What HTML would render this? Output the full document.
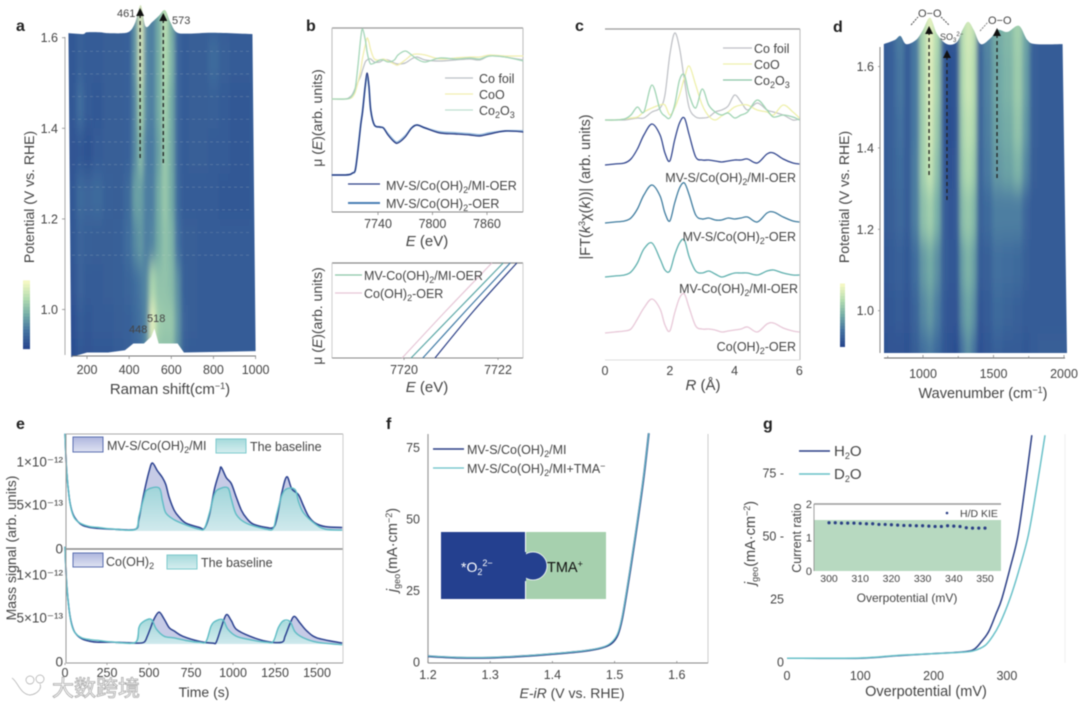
<!DOCTYPE html>
<html lang="en">
<head>
<meta charset="utf-8">
<title>Spectroscopy and electrochemistry figure</title>
<style>
html,body{margin:0;padding:0;background:#fff;width:1080px;height:708px;overflow:hidden}
#fig{display:block;filter:blur(.45px)}
text{font-family:"Liberation Sans","Noto Sans CJK SC",sans-serif;fill:#444}
.pl{font-size:16px;font-weight:bold;fill:#222}
.t{font-size:12.5px}
.tt{font-size:15px}
.sub{font-size:9px}
</style>
</head>
<body>
<svg id="fig" xmlns="http://www.w3.org/2000/svg" width="1080" height="708" viewBox="0 0 1080 708">
<defs>
<filter id="blurA" filterUnits="userSpaceOnUse" x="0" y="-60" width="320" height="480"><feGaussianBlur stdDeviation="2.2 11"/></filter>
<filter id="blurD" filterUnits="userSpaceOnUse" x="820" y="-60" width="300" height="480"><feGaussianBlur stdDeviation="2.2 11"/></filter>
<clipPath id="clipA"><path id="clipApath"/></clipPath>
<clipPath id="clipD"><path id="clipDpath"/></clipPath>
<linearGradient id="fadeBlue" x1="0" y1="0" x2="0" y2="1"><stop offset="0" stop-color="#aeb6de"/><stop offset="1" stop-color="#dfe3f2"/></linearGradient>
<linearGradient id="fadeTeal" x1="0" y1="0" x2="0" y2="1"><stop offset="0" stop-color="#9cd6d8" stop-opacity=".9"/><stop offset="1" stop-color="#d2edee" stop-opacity=".9"/></linearGradient>
<marker id="arrow" markerUnits="userSpaceOnUse" markerWidth="8" markerHeight="8" refX="4" refY="4" orient="auto"><path d="M0,4 L8,0 L8,8 Z" transform="rotate(180 4 4)" fill="#111"/></marker>
</defs>

<text class="pl" x="16" y="31">a</text>
<text class="pl" x="306" y="31">b</text>
<text class="pl" x="575" y="31">c</text>
<text class="pl" x="833" y="32">d</text>
<text class="pl" x="16" y="429">e</text>
<text class="pl" x="386" y="429">f</text>
<text class="pl" x="763" y="429">g</text>

<!-- panel a -->
<g id="heatA" clip-path="url(#clipA)"><g id="heatAcells" filter="url(#blurA)"></g></g>
<g id="panelA"></g>
<text class="t" x="117" y="17" style="font-size:11px">461</text>
<text class="t" x="172" y="24" style="font-size:11px">573</text>
<text class="t" x="129" y="333" style="font-size:11px">448</text>
<text class="t" x="147" y="322" style="font-size:11px">518</text>
<text class="tt" x="170" y="394" text-anchor="middle">Raman shift(cm<tspan class="sub" dy="-5">−1</tspan><tspan dy="5">)</tspan></text>
<text class="tt" transform="translate(34,197) rotate(-90)" text-anchor="middle" style="font-size:14px">Potential (V vs. RHE)</text>

<!-- panel b -->
<g id="panelB"></g>
<g>
<text class="t" x="479" y="83">Co foil</text>
<text class="t" x="479" y="99">CoO</text>
<text class="t" x="479" y="115">Co<tspan class="sub" dy="3">2</tspan><tspan dy="-3">O</tspan><tspan class="sub" dy="3">3</tspan></text>
<text class="t" x="386" y="190">MV-S/Co(OH)<tspan class="sub" dy="3">2</tspan><tspan dy="-3">/MI-OER</tspan></text>
<text class="t" x="386" y="208">MV-S/Co(OH)<tspan class="sub" dy="3">2</tspan><tspan dy="-3">-OER</tspan></text>
<text class="t" x="364" y="280">MV-Co(OH)<tspan class="sub" dy="3">2</tspan><tspan dy="-3">/MI-OER</tspan></text>
<text class="t" x="364" y="298">Co(OH)<tspan class="sub" dy="3">2</tspan><tspan dy="-3">-OER</tspan></text>
</g>
<text class="tt" x="427" y="246" text-anchor="middle"><tspan font-style="italic">E</tspan> (eV)</text>
<text class="tt" x="427" y="392" text-anchor="middle"><tspan font-style="italic">E</tspan> (eV)</text>
<text transform="translate(322,118) rotate(-90)" text-anchor="middle" style="font-size:14px">μ (<tspan font-style="italic">E</tspan>)(arb. units)</text>
<text transform="translate(322,316) rotate(-90)" text-anchor="middle" style="font-size:14px">μ (<tspan font-style="italic">E</tspan>)(arb. units)</text>

<!-- panel c -->
<g id="panelC"></g>
<text class="t" x="754" y="53">Co foil</text>
<text class="t" x="754" y="69">CoO</text>
<text class="t" x="754" y="85">Co<tspan class="sub" dy="3">2</tspan><tspan dy="-3">O</tspan><tspan class="sub" dy="3">3</tspan></text>
<text class="t" x="796" y="182" text-anchor="end">MV-S/Co(OH)<tspan class="sub" dy="3">2</tspan><tspan dy="-3">/MI-OER</tspan></text>
<text class="t" x="796" y="241" text-anchor="end">MV-S/Co(OH)<tspan class="sub" dy="3">2</tspan><tspan dy="-3">-OER</tspan></text>
<text class="t" x="798" y="293" text-anchor="end">MV-Co(OH)<tspan class="sub" dy="3">2</tspan><tspan dy="-3">/MI-OER</tspan></text>
<text class="t" x="796" y="351" text-anchor="end">Co(OH)<tspan class="sub" dy="3">2</tspan><tspan dy="-3">-OER</tspan></text>
<text class="tt" x="703" y="390" text-anchor="middle"><tspan font-style="italic">R</tspan> (Å)</text>
<text transform="translate(590,187) rotate(-90)" text-anchor="middle" style="font-size:14.5px">|FT(<tspan font-style="italic">k</tspan><tspan class="sub" dy="-5">3</tspan><tspan dy="5">χ(</tspan><tspan font-style="italic">k</tspan>))| (arb. units)</text>

<!-- panel d -->
<g id="heatD" clip-path="url(#clipD)"><g id="heatDcells" filter="url(#blurD)"></g></g>
<g id="panelD"></g>
<text x="918" y="17" style="font-size:11px">O−O</text>
<text x="988" y="24" style="font-size:11px">O−O</text>
<text x="940" y="40" style="font-size:9px">SO<tspan style="font-size:6px" dy="2">3</tspan><tspan style="font-size:6px" dy="-6">2−</tspan></text>
<text class="tt" x="983" y="398" text-anchor="middle" style="font-size:14.5px">Wavenumber (cm<tspan class="sub" dy="-5">−1</tspan><tspan dy="5">)</tspan></text>
<text class="tt" transform="translate(849,197) rotate(-90)" text-anchor="middle" style="font-size:14px">Potential (V vs. RHE)</text>

<!-- panel e -->
<g id="panelE"></g>
<rect x="73" y="437" width="30" height="15" fill="url(#fadeBlue)" stroke="#5a6eb0"/>
<rect x="216" y="439" width="30" height="14" fill="url(#fadeTeal)" stroke="#7cc9cc"/>
<rect x="73" y="553" width="30" height="14" fill="url(#fadeBlue)" stroke="#5a6eb0"/>
<rect x="167" y="555" width="30" height="14" fill="url(#fadeTeal)" stroke="#7cc9cc"/>
<text class="t" x="107" y="450">MV-S/Co(OH)<tspan class="sub" dy="3">2</tspan><tspan dy="-3">/MI</tspan></text>
<text class="t" x="250" y="451">The baseline</text>
<text class="t" x="106" y="566">Co(OH)<tspan class="sub" dy="3">2</tspan></text>
<text class="t" x="201" y="567">The baseline</text>
<text class="tt" x="204" y="697" text-anchor="middle" style="font-size:14px">Time (s)</text>
<text class="tt" transform="translate(16,548) rotate(-90)" text-anchor="middle" style="font-size:14px">Mass signal (arb. units)</text>

<!-- panel f -->
<g id="panelF"></g>
<g>
<rect x="441" y="532" width="84" height="67" fill="#24408f"/>
<rect x="526" y="532" width="80" height="67" fill="#a6d0ae"/>
<circle cx="533" cy="566" r="14" fill="#24408f" stroke="#fff" stroke-width=".8"/>
<rect x="515" y="552" width="11" height="29" fill="#24408f"/>
<text x="461" y="572" style="font-size:14px;fill:#fff">*O<tspan style="font-size:9px;fill:#fff" dy="3">2</tspan><tspan style="font-size:9px;fill:#fff" dy="-9">2−</tspan></text>
<text x="547" y="572" style="font-size:14.5px;fill:#111">TMA<tspan style="font-size:9px;fill:#111" dy="-5">+</tspan></text>
</g>
<text class="t" x="467" y="454">MV-S/Co(OH)<tspan class="sub" dy="3">2</tspan><tspan dy="-3">/MI</tspan></text>
<text class="t" x="467" y="473">MV-S/Co(OH)<tspan class="sub" dy="3">2</tspan><tspan dy="-3">/MI+TMA</tspan><tspan class="sub" dy="-4">−</tspan></text>
<text class="tt" x="572" y="698" text-anchor="middle" style="font-size:14px"><tspan font-style="italic">E-iR</tspan> (V vs. RHE)</text>
<text transform="translate(397,550) rotate(-90)" text-anchor="middle" style="font-size:14.5px"><tspan font-style="italic">j</tspan><tspan class="sub" dy="3">geo</tspan><tspan dy="-3">(mA·cm</tspan><tspan class="sub" dy="-5">−2</tspan><tspan dy="5">)</tspan></text>

<!-- panel g -->
<g id="panelG"></g>
<text x="834" y="456" style="font-size:15px">H<tspan class="sub" dy="3">2</tspan><tspan dy="-3">O</tspan></text>
<text x="834" y="479" style="font-size:15px">D<tspan class="sub" dy="3">2</tspan><tspan dy="-3">O</tspan></text>
<text x="960" y="517" style="font-size:10.5px">H/D KIE</text>
<text x="907" y="602" text-anchor="middle" style="font-size:12px">Overpotential (mV)</text>
<text transform="translate(801,538) rotate(-90)" text-anchor="middle" style="font-size:12.5px">Current ratio</text>
<text class="tt" x="926" y="696" text-anchor="middle" style="font-size:14.5px">Overpotential (mV)</text>
<text transform="translate(755,543) rotate(-90)" text-anchor="middle" style="font-size:14.5px"><tspan font-style="italic">j</tspan><tspan class="sub" dy="3">geo</tspan><tspan dy="-3">(mA·cm</tspan><tspan class="sub" dy="-5">−2</tspan><tspan dy="5">)</tspan></text>

<!-- watermark -->
<g>
<path d="M12,678 C18,682 20,694 30,695 C38,694 42,688 40,684 M18,676 C16,686 20,698 24,700 M26,680 a4,4 0 1 0 8,0 a4,4 0 1 0 -8,0 M36,679 a4,4 0 1 0 8,0 a4,4 0 1 0 -8,0" fill="none" stroke="#fff" stroke-width="2.4"/>
<path d="M12,678 C18,682 20,694 30,695 C38,694 42,688 40,684 M26,680 a4,4 0 1 0 8,0 a4,4 0 1 0 -8,0 M36,679 a4,4 0 1 0 8,0 a4,4 0 1 0 -8,0" fill="none" stroke="#aaa" stroke-width=".7"/>
<text x="52" y="696" style="font-size:22px;fill:#fff;stroke:#aaa;stroke-width:.8;font-family:'Noto Sans CJK SC',sans-serif">大数跨境</text>
</g>
</svg>

<script>
/* ---------- panel a data ---------- */
const ramanShift=[130,170,200,250,300,350,400,430,455,480,510,540,570,600,630,660,700,750,800,850,900,950,1000];
const ramanPotentials=[1.66,1.55,1.45,1.35,1.25,1.15,1.05,0.97,0.90];
const ramanIntensity=[
[.10,.14,.12,.12,.13,.13,.15,.40,.95,.35,.30,.50,.80,.50,.18,.12,.13,.13,.12,.12,.12,.12,.12],
[.10,.14,.12,.12,.13,.13,.15,.40,.90,.35,.30,.50,.75,.55,.18,.12,.13,.13,.20,.14,.12,.12,.12],
[.10,.22,.12,.10,.13,.13,.15,.35,.75,.35,.30,.50,.70,.50,.18,.12,.13,.13,.14,.12,.10,.10,.12],
[.08,.10,.06,.12,.13,.13,.15,.35,.60,.30,.28,.45,.65,.50,.18,.12,.13,.13,.12,.12,.10,.10,.12],
[.10,.20,.18,.20,.14,.13,.20,.45,.45,.30,.30,.50,.65,.50,.20,.12,.12,.12,.12,.10,.10,.10,.12],
[.10,.16,.14,.13,.13,.14,.22,.35,.42,.30,.33,.50,.62,.55,.25,.13,.13,.12,.12,.12,.12,.12,.12],
[.08,.16,.12,.12,.13,.14,.17,.22,.28,.35,.72,.62,.62,.58,.38,.14,.13,.12,.12,.12,.12,.12,.12],
[.05,.12,.10,.12,.12,.13,.15,.20,.25,.35,.95,.68,.65,.65,.42,.16,.13,.12,.12,.12,.12,.12,.12],
[.03,.10,.08,.10,.10,.12,.14,.18,.22,.35,.85,.62,.60,.60,.38,.14,.12,.12,.12,.12,.12,.12,.12]];
const ramanTopShift=[112,180,200,260,300,370,405,430,455,478,510,540,570,595,625,680,800,985];
const ramanTopEdge=[1.61,1.608,1.612,1.612,1.61,1.61,1.615,1.635,1.672,1.625,1.635,1.648,1.661,1.635,1.612,1.609,1.611,1.608];
const ramanBottomShift=[125,200,300,380,420,470,505,520,540,590,630,660,1000];
const ramanBottomEdge=[0.895,0.905,0.905,0.91,0.925,0.925,0.94,0.958,0.925,0.925,0.925,0.905,0.908];
const ramanTraces=[1.57,1.52,1.47,1.42,1.37,1.32,1.27,1.22,1.17,1.12];
const ramanXTicks=[200,400,600,800,1000];
const ramanXLabels=['200','400','600','800','1000'];
const potentialTicks=[1.0,1.2,1.4,1.6];
const potentialLabels=['1.0','1.2','1.4','1.6'];
const colorbarLevels=[0,.05,.1,.15,.2,.25,.3,.35,.4,.45,.5,.55,.6,.65,.7,.75,.8,.85,.9,.95,1];

/* ---------- panel b data ---------- */
const xanesEnergy=[7689,7704,7709,7712,7715,7718,7721,7723,7726,7728,7730,7732,7736,7742,7746,7751,7758,7762,7770,7777,7783,7792,7808,7825,7841,7852,7863,7880,7900];
const xanesCoFoil=[0,0,.02,.05,.11,.17,.23,.29,.37,.39,.40,.40,.37,.37,.39,.39,.36,.35,.36,.40,.42,.39,.38,.39,.40,.39,.43,.42,.39];
const xanesCoO=[0,0,.005,.02,.07,.17,.29,.41,.54,.61,.57,.49,.40,.39,.40,.38,.35,.34,.39,.44,.45,.44,.40,.41,.42,.42,.44,.43,.43];
const xanesCo2O3=[0,0,.01,.04,.11,.34,.61,.70,.59,.47,.39,.35,.36,.39,.39,.37,.39,.44,.48,.44,.40,.37,.41,.40,.41,.40,.43,.42,.38];
const xanesMvMi=[0,0,.005,.02,.05,.25,.50,.63,.90,1.02,.90,.65,.50,.48,.47,.40,.33,.32,.38,.47,.50,.47,.42,.41,.40,.39,.41,.44,.43];
const xanesMvS=[0,0,.005,.02,.05,.26,.51,.64,.89,.99,.88,.65,.50,.48,.47,.41,.34,.33,.39,.47,.50,.47,.43,.42,.41,.40,.42,.44,.44];
const xanesXTicks=[7740,7800,7860];
const xanesXLabels=['7740','7800','7860'];
const edgeMu=[0,.5,1];
const edgePink=[7719.96,7720.9,7721.87];
const edgeGreen=[7720.15,7721.13,7722.11];
const edgeBlue=[7720.4,7721.32,7722.26];
const edgeDark=[7720.66,7721.49,7722.4];
const edgeXTicks=[7720,7722];
const edgeXLabels=['7720','7722'];

/* ---------- panel c data ---------- */
const exafsR=[0,.3,.6,.8,1,1.2,1.45,1.7,1.85,2,2.15,2.3,2.45,2.6,2.8,3,3.2,3.4,3.6,3.8,4,4.2,4.4,4.7,5,5.2,5.5,5.8,6];
const exafsFoil=[0,0,0,1,2,2,8,12,25,65,87,72,40,12,3,2,3,8,10,14,25,18,10,17,10,8,5,0,1];
const exafsCoO=[0,0,1,2,3,8,12,15,15,5,12,25,42,54,35,15,4,0,4,8,13,15,15,10,8,5,15,8,2];
const exafsCo2O3=[0,0,1,5,13,8,35,10,4,2,15,40,45,25,12,31,15,8,5,7,2,5,8,20,10,3,5,3,0];
const exafsMvSMi=[0,1,2,6,16,30,41,30,12,4,25,42,47,30,8,5,5,4,3,4,5,5,6,2,11,12,6,2,1];
const exafsMvS=[0,1,2,5,14,28,38,27,10,2,20,35,40,28,8,4,5,3,3,5,4,5,6,1,10,11,6,2,1];
const exafsMvMi=[0,1,2,5,14,28,34,18,7,6,22,34,37,20,6,4,6,3,0,2,4,4,4,2,6,7,4,2,2];
const exafsCoOH=[0,1,2,4,14,25,34,24,8,2,20,35,39,25,7,4,4,3,1,2,3,4,6,1,9,10,5,2,1];
const exafsXTicks=[0,2,4,6];
const exafsXLabels=['0','2','4','6'];

/* ---------- panel d data ---------- */
const waveNumber=[720,780,820,850,880,950,1000,1050,1100,1150,1190,1240,1280,1320,1360,1400,1450,1530,1600,1680,1730,1780,1850,2000];
const irPotentials=[1.72,1.55,1.45,1.35,1.25,1.1,1.0,0.89];
const irIntensity=[
[.12,.15,.28,.30,.12,.28,.72,.95,.74,.15,.08,.10,.76,.88,.80,.14,.34,.50,.56,.68,.46,.15,.12,.12],
[.12,.15,.25,.28,.12,.28,.70,.92,.70,.10,.04,.10,.74,.85,.76,.14,.32,.48,.54,.66,.44,.15,.12,.12],
[.12,.15,.22,.25,.12,.28,.68,.88,.65,.10,.03,.10,.70,.80,.72,.14,.30,.46,.50,.62,.40,.14,.12,.12],
[.12,.14,.20,.22,.12,.30,.68,.82,.60,.12,.05,.12,.66,.75,.66,.14,.28,.42,.46,.54,.34,.13,.12,.12],
[.12,.13,.18,.20,.12,.30,.60,.68,.52,.15,.08,.12,.58,.65,.56,.14,.20,.30,.30,.30,.18,.12,.12,.12],
[.10,.12,.15,.15,.10,.22,.42,.50,.38,.14,.10,.10,.45,.55,.45,.12,.14,.24,.22,.20,.14,.12,.12,.12],
[.08,.10,.12,.12,.08,.17,.34,.42,.30,.12,.08,.08,.38,.48,.38,.08,.12,.20,.17,.15,.12,.12,.12,.12],
[.06,.08,.08,.08,.06,.13,.24,.28,.20,.10,.06,.03,.26,.38,.26,.05,.10,.15,.12,.12,.10,.12,.13,.13]];
const irTopShift=[722,800,840,880,950,1000,1050,1100,1170,1240,1280,1320,1360,1410,1480,1530,1600,1680,1740,1800,1990];
const irTopEdge=[1.655,1.665,1.675,1.655,1.665,1.69,1.72,1.68,1.655,1.66,1.69,1.71,1.69,1.655,1.67,1.69,1.685,1.70,1.665,1.655,1.655];
const irXTicks=[1000,1500,2000];
const irXLabels=['1000','1500','2000'];
const irMinorTicks=[750,1250,1750];

/* ---------- panel e data ---------- */
const timeTopMv=[0,10,25,40,60,100,150,200,300,420,440,470,500,520,550,580,600,620,650,680,720,800,830,860,890,920,930,960,990,1020,1050,1080,1120,1200,1240,1260,1290,1320,1350,1390,1420,1450,1490,1550,1650];
const signalTopMv=[13.4,9,6,4.5,3.6,2.8,2.5,2.4,2.3,2.3,3.5,6.5,9,10,9.1,8.3,7.5,6,4.5,3.7,3,2.5,2.4,4,7,9,9.5,8.3,7.6,6,4.5,3.6,2.9,2.5,2.5,3.5,6.5,8.4,7,6.3,5,3.8,3,2.6,2.5];
const timeTopBase=[0,10,25,40,60,100,150,200,300,420,440,470,490,560,580,600,650,720,800,830,860,890,920,970,990,1020,1080,1200,1240,1260,1290,1320,1370,1390,1420,1490,1550,1650];
const signalTopBase=[13.4,9,6,4.4,3.5,2.9,2.6,2.5,2.3,2.3,3.8,6,6.9,7.1,5.6,4.2,3.4,2.8,2.3,2.4,4.2,6.4,7,7.1,5.8,4,3,2.3,2.4,4,6.2,7,6.9,5.5,4.2,2.9,2.3,2.2];
const timeBotMv=[0,10,25,40,60,100,150,200,300,420,470,490,510,530,560,590,620,650,700,800,880,900,930,960,990,1020,1100,1200,1290,1310,1340,1365,1400,1440,1500,1650];
const signalBotMv=[13.4,9,6,4.4,3.4,2.7,2.4,2.3,2.3,2.2,2.3,3,4,5,5.8,5,4,3.6,3,2.4,2.2,2.3,4,5.5,4.8,3.8,3,2.4,2.3,3,4.5,5.3,4.5,3.6,2.8,2.2];
const timeBotBase=[0,10,25,40,60,100,150,200,300,420,440,460,500,520,545,590,650,720,800,840,870,900,940,970,1020,1100,1200,1240,1270,1300,1340,1370,1420,1500,1650];
const signalBotBase=[13.4,9,6,4.3,3.4,2.8,2.6,2.5,2.3,2.3,4,4.6,5,4.8,3.8,3,2.8,2.5,2.3,2.4,4.2,4.8,4.9,3.8,3,2.6,2.3,2.4,4,4.8,4.7,3.5,2.8,2.3,2];
const timeTicks=[0,250,500,750,1000,1250,1500];
const timeLabels=['0','250','500','750','1000','1250','1500'];

/* ---------- panel f data ---------- */
const fPotential=[1.2,1.25,1.3,1.35,1.4,1.45,1.48,1.495,1.505,1.512,1.52,1.53,1.5375,1.547,1.555];
const fCurrentMv=[2,1.5,1.5,2,2.8,3.8,5,6.5,9.5,15,25,39,50,65,80];
const fCurrentTma=[2.1,1.6,1.6,2.1,2.9,3.9,5.1,6.9,10,15.5,25.5,39.5,50.5,65.5,80];
const fXTicks=[1.2,1.3,1.4,1.5,1.6];
const fXLabels=['1.2','1.3','1.4','1.5','1.6'];
const fYTicks=[0,25,50,75];
const fYLabels=['0','25','50','75'];

/* ---------- panel g data ---------- */
const gOverH=[0,100,150,200,240,255,265,275,285,293,305,315,325,334];
const gCurrentH=[1.5,1.5,2.5,3.3,4,5,8,12,19,25,38,50,70,90];
const gOverD=[0,100,150,200,240,255,270,280,290,304,316,329,340,352];
const gCurrentD=[1.5,1.6,2.6,3.3,3.9,4.5,6.5,10,15,25,36,50,68,90];
const gXTicks=[0,100,200,300];
const gXLabels=['0','100','200','300'];
const gYTicks=[0,25,50,75];
const gYLabels=['0','25','50 -','75 -'];
const kieOver=[300,302,304,306,308,310,312,314,316,318,320,322,324,326,328,330,332,334,336,338,340,342,344,346,348,350];
const kieRatio=[1.44,1.44,1.43,1.43,1.43,1.42,1.41,1.41,1.39,1.39,1.38,1.37,1.36,1.36,1.35,1.35,1.34,1.33,1.33,1.35,1.34,1.33,1.29,1.28,1.28,1.28];
const kieXTicks=[300,310,320,330,340,350];
const kieXLabels=['300','310','320','330','340','350'];
const kieYTicks=[0,1,2];
const kieYLabels=['0','1','2'];

/* ---------- scales ---------- */
const SVGNS='http://www.w3.org/2000/svg';
const xA=v=>87+(v-200)*0.21075, yA=p=>37.7+(1.6-p)*453;
const xD=v=>923+(v-1000)*0.141, yD=p=>66.5+(1.6-p)*407;
const xB=e=>378+(e-7740)*0.908, yBt=(m,off)=>175-(m+off)*100;
const xB2=e=>404+(e-7720)*47, yB2=m=>358-m*95;
const xC=r=>605+r*32.4;
const xE=t=>65+t*0.168, yE1=s=>549-s*8.6, yE2=s=>662-s*8.6;
const xF=e=>428+(e-1.2)*622, yF=j=>662-j*2.86;
const xG=o=>787+o*0.733, yG=j=>662-j*2.52;
const xK=o=>829+(o-300)*3.12, yK=r=>571-r*33.5;

const colorStops=[[0,[40,72,142]],[.25,[68,114,160]],[.5,[116,172,166]],[.75,[179,220,176]],[1,[243,247,195]]];
function heatColor(v){
  v=Math.max(0,Math.min(1,v));
  for(let i=1;i<colorStops.length;i++){
    if(v<=colorStops[i][0]){
      const a=colorStops[i-1],b=colorStops[i],f=(v-a[0])/(b[0]-a[0]);
      return 'rgb('+a[1].map((c,k)=>Math.round(c+(b[1][k]-c)*f)).join(',')+')';
    }
  }
  return '#f3f7c3';
}
function smooth(p){
  let d='M'+p[0][0].toFixed(2)+','+p[0][1].toFixed(2);
  for(let i=0;i<p.length-1;i++){
    const a=p[Math.max(0,i-1)],b=p[i],c=p[i+1],e=p[Math.min(p.length-1,i+2)];
    const t=6;
    d+='C'+(b[0]+(c[0]-a[0])/t).toFixed(2)+','+(b[1]+(c[1]-a[1])/t).toFixed(2)+' '+(c[0]-(e[0]-b[0])/t).toFixed(2)+','+(c[1]-(e[1]-b[1])/t).toFixed(2)+' '+c[0].toFixed(2)+','+c[1].toFixed(2);
  }
  return d;
}
function pts(xs,ys,fx,fy){return xs.map((x,i)=>[fx(x),fy(ys[i])]);}
function addCurve(parent,d,color,width,name){
  const el=document.createElementNS(SVGNS,'path');
  el.setAttribute('d',d);
  el.setAttribute('fill','none');
  el.setAttribute('stroke',color);
  el.setAttribute('stroke-width',width);
  
  
  parent.appendChild(el);
  return el;
}
function addFill(parent,d,fill,name){
  const el=document.createElementNS(SVGNS,'path');
  el.setAttribute('d',d);
  el.setAttribute('fill',fill);
  
  
  parent.appendChild(el);
  return el;
}
function addLine(parent,x1,y1,x2,y2,color,width,name,dash,marker){
  const el=document.createElementNS(SVGNS,'line');
  el.setAttribute('x1',x1);el.setAttribute('y1',y1);el.setAttribute('x2',x2);el.setAttribute('y2',y2);
  el.setAttribute('stroke',color);
  el.setAttribute('stroke-width',width);
  if(dash)el.setAttribute('stroke-dasharray',dash);
  if(marker)el.setAttribute('marker-end','url(#arrow)');
  
  
  parent.appendChild(el);
  return el;
}
function addLabel(parent,x,y,str,anchor,size,name){
  const el=document.createElementNS(SVGNS,'text');
  el.setAttribute('x',x);el.setAttribute('y',y);
  el.setAttribute('text-anchor',anchor);
  el.style.fontSize=size+'px';
  el.textContent=str;
  
  
  parent.appendChild(el);
  return el;
}
function addRect(parent,x,y,w,h,fill,name){
  const el=document.createElementNS(SVGNS,'rect');
  el.setAttribute('x',x);el.setAttribute('y',y);el.setAttribute('width',w);el.setAttribute('height',h);
  el.setAttribute('fill',fill);
  
  
  parent.appendChild(el);
  return el;
}
function xTicks(parent,vals,labels,fx,axisY,labelY,tickLen,size,prefix){
  vals.forEach((v,i)=>{
    addLine(parent,fx(v),axisY,fx(v),axisY+tickLen,'#888',.8,prefix+'-x-tick');
    addLabel(parent,fx(v),labelY,labels[i],'middle',size,prefix+'-x-tick-label');
  });
}
function yTicks(parent,vals,labels,fy,axisX,labelX,tickLen,size,prefix){
  vals.forEach((v,i)=>{
    if(tickLen)addLine(parent,axisX-tickLen,fy(v),axisX,fy(v),'#888',.8,prefix+'-y-tick');
    addLabel(parent,labelX,fy(v)+4.5,labels[i],'end',size,prefix+'-y-tick-label');
  });
}
function heatmap(parent,cols,rows,matrix,fx,fy,prefix){
  rows.forEach((p,r)=>{
    const up=r===0?p+.25:(p+rows[r-1])/2, dn=r===rows.length-1?p-.25:(p+rows[r+1])/2;
    cols.forEach((c,k)=>{
      const lf=k===0?c-150:(c+cols[k-1])/2, rt=k===cols.length-1?c+150:(c+cols[k+1])/2;
      addRect(parent,fx(lf),fy(up),fx(rt)-fx(lf)+.5,fy(dn)-fy(up)+.5,heatColor(matrix[r][k]),prefix+'-cell');
    });
  });
}
function colorbar(parent,x,y0,w,h,prefix){
  colorbarLevels.forEach(l=>{
    const step=h/(colorbarLevels.length-1);
    addRect(parent,x,y0+h-l*h-step/2,w,step+.5,heatColor(l),prefix+'-colorbar-step');
  });
}

/* ---------- panel a ---------- */
heatmap(document.getElementById('heatAcells'),ramanShift,ramanPotentials,ramanIntensity,xA,yA,'raman');
const topA=pts(ramanTopShift,ramanTopEdge,xA,yA);
const botA=pts(ramanBottomShift,ramanBottomEdge,xA,yA).reverse();
document.getElementById('clipApath').setAttribute('d',smooth(topA)+'L'+botA.map(q=>q.join(',')).join('L')+'Z');
const gA=document.getElementById('panelA');
ramanTraces.forEach(p=>addLine(gA,72,yA(p),252,yA(p),'#dfe8dc',.6,'raman-trace-line','3 3').setAttribute('opacity','.28'));
colorbar(gA,23,282,7,65,'raman');
addLine(gA,65,37,65,355,'#aaa',1,'raman-y-axis');
addLine(gA,72,356,256,356,'#777',1,'raman-x-axis');
xTicks(gA,ramanXTicks,ramanXLabels,xA,356,374,3,12.5,'raman');
yTicks(gA,potentialTicks,potentialLabels,yA,65,58,3,12.5,'raman');
addLine(gA,xA(452),158,xA(452),12,'#222',1.3,'arrow-461','4 3',true);
addLine(gA,xA(562),163,xA(562),17,'#222',1.3,'arrow-573','4 3',true);

/* ---------- panel b ---------- */
const gB=document.getElementById('panelB');
addLine(gB,332,28,523,28,'#999',1.2,'xanes-top-frame');
addLine(gB,332,28,332,212,'#bbb',1,'xanes-left-frame');
addLine(gB,523,28,523,212,'#bbb',1,'xanes-right-frame');
addLine(gB,332,212,523,212,'#888',1,'xanes-x-axis');
xTicks(gB,xanesXTicks,xanesXLabels,xB,212,228,3,12.5,'xanes');
addCurve(gB,smooth(pts(xanesEnergy,xanesCoFoil,xB,m=>yBt(m,.76))),'#bcc0c4',1.2,'xanes-co-foil');
addCurve(gB,smooth(pts(xanesEnergy,xanesCoO,xB,m=>yBt(m,.76))),'#f1eeb0',1.3,'xanes-coo');
addCurve(gB,smooth(pts(xanesEnergy,xanesCo2O3,xB,m=>yBt(m,.76))),'#a5d6b8',1.3,'xanes-co2o3');
addCurve(gB,smooth(pts(xanesEnergy,xanesMvS,xB,m=>yBt(m,0))),'#8fb4d8',2,'xanes-mv-s');
addCurve(gB,smooth(pts(xanesEnergy,xanesMvMi,xB,m=>yBt(m,0))),'#23357f',1.2,'xanes-mv-s-mi');
addLine(gB,445,78,473,78,'#bcc0c4',1.2,'legend-line-co-foil');
addLine(gB,445,94,473,94,'#f1eeb0',1.3,'legend-line-coo');
addLine(gB,445,110,473,110,'#bfe0d0',1.3,'legend-line-co2o3');
addLine(gB,348,184,380,184,'#2b3f86',1.2,'legend-line-mv-s-mi');
addLine(gB,348,203,380,203,'#4a7fb5',2,'legend-line-mv-s');
addLine(gB,332,263,523,263,'#888',1.2,'xanes-zoom-top-frame');
addLine(gB,332,263,332,358,'#ccc',1,'xanes-zoom-left-frame');
addLine(gB,523,263,523,358,'#ccc',1,'xanes-zoom-right-frame');
addLine(gB,332,358,523,358,'#888',1,'xanes-zoom-x-axis');
xTicks(gB,edgeXTicks,edgeXLabels,xB2,358,374,2,12.5,'xanes-zoom');
addCurve(gB,smooth(pts(edgePink,edgeMu,xB2,yB2)),'#e6c6d6',1.2,'edge-coh2-oer');
addCurve(gB,smooth(pts(edgeGreen,edgeMu,xB2,yB2)),'#5aa7a6',1.2,'edge-mv-mi');
addCurve(gB,smooth(pts(edgeBlue,edgeMu,xB2,yB2)),'#3f7aa5',1.2,'edge-mv-s');
addCurve(gB,smooth(pts(edgeDark,edgeMu,xB2,yB2)),'#2b3f86',1.2,'edge-mv-s-mi');
addLine(gB,335,275,362,275,'#8cc4a6',1.3,'legend-line-mv-mi');
addLine(gB,335,293,362,293,'#e6c6d6',1.3,'legend-line-coh2');

/* ---------- panel c ---------- */
const gC=document.getElementById('panelC');
addLine(gC,605,29,800,29,'#999',1.2,'exafs-top-frame');
addLine(gC,800,29,800,360,'#bbb',1,'exafs-right-frame');
addLine(gC,605,360,800,360,'#ddd',1,'exafs-x-axis');
xTicks(gC,exafsXTicks,exafsXLabels,xC,360,375,0,12.5,'exafs');
addCurve(gC,smooth(pts(exafsR,exafsFoil,xC,v=>120-v)),'#bdbfc4',1.2,'exafs-co-foil');
addCurve(gC,smooth(pts(exafsR,exafsCoO,xC,v=>120-v)),'#eef0ab',1.3,'exafs-coo');
addCurve(gC,smooth(pts(exafsR,exafsCo2O3,xC,v=>120-v)),'#a0d4b4',1.3,'exafs-co2o3');
addCurve(gC,smooth(pts(exafsR,exafsMvSMi,xC,v=>165-v)),'#33478f',1.3,'exafs-mv-s-mi');
addCurve(gC,smooth(pts(exafsR,exafsMvS,xC,v=>223-v)),'#3f7c9f',1.3,'exafs-mv-s');
addCurve(gC,smooth(pts(exafsR,exafsMvMi,xC,v=>277-v)),'#5fb0ae',1.3,'exafs-mv-mi');
addCurve(gC,smooth(pts(exafsR,exafsCoOH,xC,v=>333-v)),'#e8c8d8',1.3,'exafs-coh2');
addLine(gC,723,48,752,48,'#bdbfc4',1.2,'exafs-legend-line-foil');
addLine(gC,723,64,752,64,'#eef0ab',1.3,'exafs-legend-line-coo');
addLine(gC,723,80,752,80,'#8cc4a6',1.3,'exafs-legend-line-co2o3');

/* ---------- panel d ---------- */
heatmap(document.getElementById('heatDcells'),waveNumber,irPotentials,irIntensity,xD,yD,'ir');
const topD=pts(irTopShift,irTopEdge,xD,yD);
document.getElementById('clipDpath').setAttribute('d',smooth(topD)+'L1067,353L884,353Z');
const gD=document.getElementById('panelD');
colorbar(gD,840,285,5,60,'ir');
addLine(gD,880,47,880,353,'#888',1,'ir-y-axis');
addLine(gD,884,358,1065,358,'#666',1,'ir-x-axis');
xTicks(gD,irXTicks,irXLabels,xD,358,378,-3,12.5,'ir');
irMinorTicks.forEach(v=>addLine(gD,xD(v),358,xD(v),356,'#888',.8,'ir-minor-tick'));
yTicks(gD,potentialTicks,potentialLabels,yD,880,874,2,12.5,'ir');
addLine(gD,xD(1043),175,xD(1043),30,'#222',1.3,'arrow-o-o-left','4 3',true);
addLine(gD,xD(1170),200,xD(1170),54,'#222',1.3,'arrow-sulfate','4 3',true);
addLine(gD,xD(1525),178,xD(1525),32,'#222',1.3,'arrow-o-o-right','4 3',true);
addLine(gD,911,25,918,17,'#555',1,'o-o-bond-left-a','2 1');
addLine(gD,941,17,949,25,'#555',1,'o-o-bond-left-b','2 1');
addLine(gD,980,31,988,22,'#888',1,'o-o-bond-right','2 1');

/* ---------- panel e ---------- */
const gE=document.getElementById('panelE');
function massPanel(tMv,sMv,tBase,sBase,fy,suffix){
  const mv=pts(tMv,sMv,xE,fy), base=pts(tBase,sBase,xE,fy);
  const floor=fy(2.1);
  addFill(gE,'M'+mv.filter((q,i)=>tMv[i]>=300).map(q=>q.join(',')).join('L')+'L'+xE(1650)+','+floor+'L'+xE(300)+','+floor+'Z','#c6cbe6','mass-fill-sample-'+suffix);
  addFill(gE,'M'+base.filter((q,i)=>tBase[i]>=300).map(q=>q.join(',')).join('L')+'L'+xE(1650)+','+floor+'L'+xE(300)+','+floor+'Z','url(#fadeTeal)','mass-fill-baseline-'+suffix);
  addCurve(gE,smooth(mv),'#2a408f',1.5,'mass-curve-sample-'+suffix);
  addCurve(gE,smooth(base),'#5ebcc4',1.4,'mass-curve-baseline-'+suffix);
}
massPanel(timeTopMv,signalTopMv,timeTopBase,signalTopBase,yE1,'top');
massPanel(timeBotMv,signalBotMv,timeBotBase,signalBotBase,yE2,'bottom');
addLine(gE,66,434,343,434,'#aaa',1,'mass-top-frame');
addLine(gE,66,549,343,549,'#888',1.5,'mass-separator');
addLine(gE,343,434,343,663,'#ccc',1,'mass-right-frame');
addLine(gE,66,434,66,663,'#999',1,'mass-y-axis');
addLine(gE,66,663,343,663,'#999',1,'mass-x-axis');
xTicks(gE,timeTicks,timeLabels,xE,663,677,2,12.5,'mass');
[[462,'1×10⁻¹²','mass-top-label-1e-12'],[505,'5×10⁻¹³','mass-top-label-5e-13'],[549,'0','mass-top-label-0'],[575,'1×10⁻¹²','mass-bottom-label-1e-12'],[618,'5×10⁻¹³','mass-bottom-label-5e-13'],[662,'0','mass-bottom-label-0']].forEach(a=>addLabel(gE,63,a[0]+4.5,a[1],'end',13.5,a[2]));

/* ---------- panel f ---------- */
const gF=document.getElementById('panelF');
addLine(gF,428,434,428,663,'#999',1.2,'lsv-y-axis');
addLine(gF,708,434,708,663,'#ccc',1,'lsv-right-frame');
addLine(gF,428,663,708,663,'#888',1,'lsv-x-axis');
xTicks(gF,fXTicks,fXLabels,xF,663,679,-2,12.5,'lsv');
yTicks(gF,fYTicks,fYLabels,yF,428,420,0,12.5,'lsv');
addCurve(gF,smooth(pts(fPotential,fCurrentMv,xF,yF)),'#2b3f86',2,'lsv-curve-mv');
addCurve(gF,smooth(pts(fPotential,fCurrentTma,xF,yF)),'#68c0c8',1.1,'lsv-curve-tma');
addLine(gF,433,449,464,449,'#2b3f86',1.6,'lsv-legend-line-mv');
addLine(gF,433,468,464,468,'#68c0c8',1.3,'lsv-legend-line-tma');

/* ---------- panel g ---------- */
const gG=document.getElementById('panelG');
addLine(gG,1065,434,1065,663,'#f1f1f1',1,'kie-right-frame');
xTicks(gG,gXTicks,gXLabels,xG,662,680,0,12.5,'kie');
yTicks(gG,gYTicks,gYLabels,yG,787,784,0,12.5,'kie');
addCurve(gG,smooth(pts(gOverH,gCurrentH,xG,yG)),'#2b3f86',1.5,'kie-curve-h2o');
addCurve(gG,smooth(pts(gOverD,gCurrentD,xG,yG)),'#68c0c8',1.5,'kie-curve-d2o');
addLine(gG,799,451,830,451,'#2b3f86',1.5,'kie-legend-line-h2o');
addLine(gG,799,474,830,474,'#68c0c8',1.5,'kie-legend-line-d2o');
addRect(gG,814,520,187,51,'#b7d9c0','inset-background');
addLine(gG,814,504,1001,504,'#999',1.6,'inset-top-frame');
addLine(gG,814,504,814,571,'#888',.8,'inset-y-axis');
kieXTicks.forEach((v,i)=>addLabel(gG,xK(v),582,kieXLabels[i],'middle',10.5,'inset-x-tick-label'));
kieYTicks.forEach((v,i)=>addLabel(gG,812,yK(v)+4,kieYLabels[i],'end',11,'inset-y-tick-label'));
kieOver.forEach((o,i)=>{
  const c=document.createElementNS(SVGNS,'circle');
  c.setAttribute('cx',xK(o));
  c.setAttribute('cy',yK(kieRatio[i]));
  c.setAttribute('r',1.6);
  c.setAttribute('fill','#2b3f86');
  
  
  gG.appendChild(c);
});
const kieDot=document.createElementNS(SVGNS,'circle');
kieDot.setAttribute('cx',947);
kieDot.setAttribute('cy',513);
kieDot.setAttribute('r',1.3);
kieDot.setAttribute('fill','#2b3f86');


gG.appendChild(kieDot);
</script>
</body>
</html>
